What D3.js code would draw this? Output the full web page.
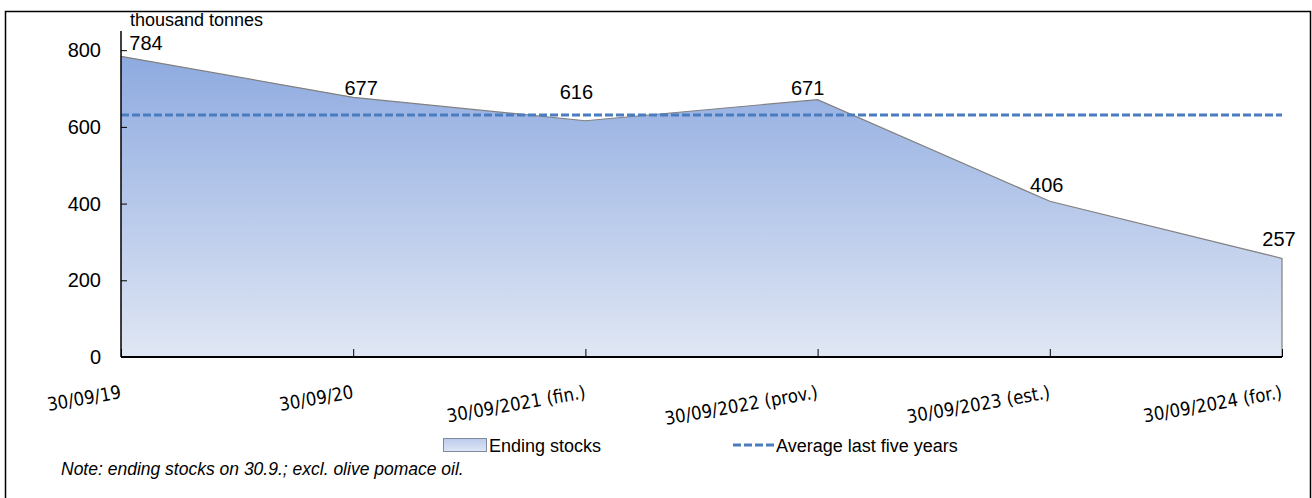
<!DOCTYPE html>
<html>
<head>
<meta charset="utf-8">
<script src="https://cdn.jsdelivr.net/npm/d3@7"></script>
<style>
  html, body { margin: 0; padding: 0; background: #fff; }
  svg { display: block; font-family: "Liberation Sans", Arial, sans-serif; }
  .narrow { font-family: "DejaVu Sans Condensed", "Liberation Sans", sans-serif; }
</style>
</head>
<body>
<div id="chart"></div>
<script>
// categories (x axis)
const dates = ['30/09/19', '30/09/20', '30/09/2021 (fin.)', '30/09/2022 (prov.)', '30/09/2023 (est.)', '30/09/2024 (for.)'];
// ending stocks, thousand tonnes
const endingStocks = [784, 677, 616, 671, 406, 257];
// average of the last five years
const averageLastFive = [631, 631, 631, 631, 631, 631];
const yTicks = [0, 200, 400, 600, 800];

// hand placed label nudges (like the original), dx / dy from the point
const labelNudge = [[25, -6], [8, -2], [-9, -22], [-10, -5], [-3, -9], [-3, -12]];

const W = 1312, H = 498;

const svg = d3.select('#chart').append('svg')
    .attr('width', W)
    .attr('height', H);

// outer frame
svg.append('rect')
    .attr('x', 5.5).attr('y', 11.5)
    .attr('width', 1305).attr('height', 490)
    .attr('fill', 'none')
    .attr('stroke', '#000')
    .attr('stroke-width', 1.5);

const x = d3.scalePoint()
    .domain(dates)
    .range([121, 1282]);

const y = d3.scaleLinear()
    .domain([0, 850])
    .range([357, 31]);

// gradient for the area
const defs = svg.append('defs');
const grad = defs.append('linearGradient')
    .attr('id', 'stockGrad')
    .attr('gradientUnits', 'userSpaceOnUse')
    .attr('x1', 0).attr('x2', 0)
    .attr('y1', y(784)).attr('y2', y(0));
grad.append('stop').attr('offset', '0%').attr('stop-color', '#8eaae0');
grad.append('stop').attr('offset', '100%').attr('stop-color', '#e0e7f4');

const legendGrad = defs.append('linearGradient')
    .attr('id', 'legendGrad')
    .attr('x1', 0).attr('x2', 0).attr('y1', 0).attr('y2', 1);
legendGrad.append('stop').attr('offset', '0%').attr('stop-color', '#bccbec');
legendGrad.append('stop').attr('offset', '100%').attr('stop-color', '#dfe6f4');

const area = d3.area()
    .x((d, i) => x(dates[i]))
    .y0(y(0))
    .y1(d => y(d));

svg.append('path')
    .datum(endingStocks)
    .attr('d', area)
    .attr('fill', 'url(#stockGrad)');

// outline of the area (top + right edge)
const outline = endingStocks.map((d, i) => [x(dates[i]), y(d)]);
outline.push([x(dates[dates.length - 1]), y(0)]);
svg.append('path')
    .attr('d', d3.line()(outline))
    .attr('fill', 'none')
    .attr('stroke', '#808080')
    .attr('stroke-width', 1.2);

// average dashed line
svg.append('path')
    .datum(averageLastFive)
    .attr('d', d3.line().x((d, i) => x(dates[i])).y(d => y(d)))
    .attr('fill', 'none')
    .attr('stroke', '#4a7dc0')
    .attr('stroke-width', 3)
    .attr('stroke-dasharray', '8,3');

// y axis
const yAxis = svg.append('g')
    .attr('transform', 'translate(' + x(dates[0]) + ',0)')
    .call(d3.axisRight(y).tickValues(yTicks).tickSize(6).tickFormat(''));
yAxis.select('.domain').remove();
yAxis.selectAll('line').attr('stroke', '#000');
svg.append('line')
    .attr('x1', x(dates[0])).attr('x2', x(dates[0]))
    .attr('y1', y(850)).attr('y2', y(0))
    .attr('stroke', '#000').attr('stroke-width', 1.5);

svg.append('g')
    .selectAll('text')
    .data(yTicks)
    .enter().append('text')
    .attr('x', 101)
    .attr('y', d => y(d))
    .attr('dy', '0.35em')
    .attr('text-anchor', 'end')
    .style('font-size', '20px')
    .style('fill', '#000')
    .text(d => d);

// x axis
const xAxis = svg.append('g')
    .attr('transform', 'translate(0,' + y(0) + ')')
    .call(d3.axisTop(x).tickSize(8).tickFormat(''));
xAxis.select('.domain').remove();
xAxis.selectAll('line').attr('stroke', '#000');
svg.append('line')
    .attr('x1', x(dates[0])).attr('x2', x(dates[dates.length - 1]))
    .attr('y1', y(0)).attr('y2', y(0))
    .attr('stroke', '#000').attr('stroke-width', 2);

svg.append('g')
    .selectAll('text')
    .data(dates)
    .enter().append('text')
    .attr('class', 'narrow')
    .attr('transform', d => 'translate(' + (x(d) + 1) + ',398) rotate(-10)')
    .attr('text-anchor', 'end')
    .style('font-size', '18.5px')
    .style('fill', '#000')
    .text(d => d);

// value labels
svg.append('g')
    .selectAll('text')
    .data(endingStocks)
    .enter().append('text')
    .attr('x', (d, i) => x(dates[i]) + labelNudge[i][0])
    .attr('y', (d, i) => y(d) + labelNudge[i][1])
    .attr('text-anchor', 'middle')
    .style('font-size', '20px')
    .style('fill', '#000')
    .text(d => d);

// unit
svg.append('text')
    .attr('x', 130).attr('y', 26)
    .style('font-size', '18px')
    .style('fill', '#000')
    .text('thousand tonnes');

// legend
const legend = svg.append('g');
legend.append('rect')
    .attr('x', 443.5).attr('y', 438.5)
    .attr('width', 43).attr('height', 13)
    .attr('fill', 'url(#legendGrad)')
    .attr('stroke', '#7f8a9c');
legend.append('text')
    .attr('x', 489).attr('y', 452)
    .style('font-size', '18px')
    .text('Ending stocks');
legend.append('line')
    .attr('x1', 733).attr('x2', 774)
    .attr('y1', 445).attr('y2', 445)
    .attr('stroke', '#4a7dc0')
    .attr('stroke-width', 3)
    .attr('stroke-dasharray', '8,3');
legend.append('text')
    .attr('x', 776).attr('y', 452)
    .style('font-size', '18px')
    .text('Average last five years');

// note
svg.append('text')
    .attr('x', 61).attr('y', 475)
    .style('font-size', '17.5px')
    .style('font-style', 'italic')
    .text('Note: ending stocks on 30.9.; excl. olive pomace oil.');
</script>
</body>
</html>
